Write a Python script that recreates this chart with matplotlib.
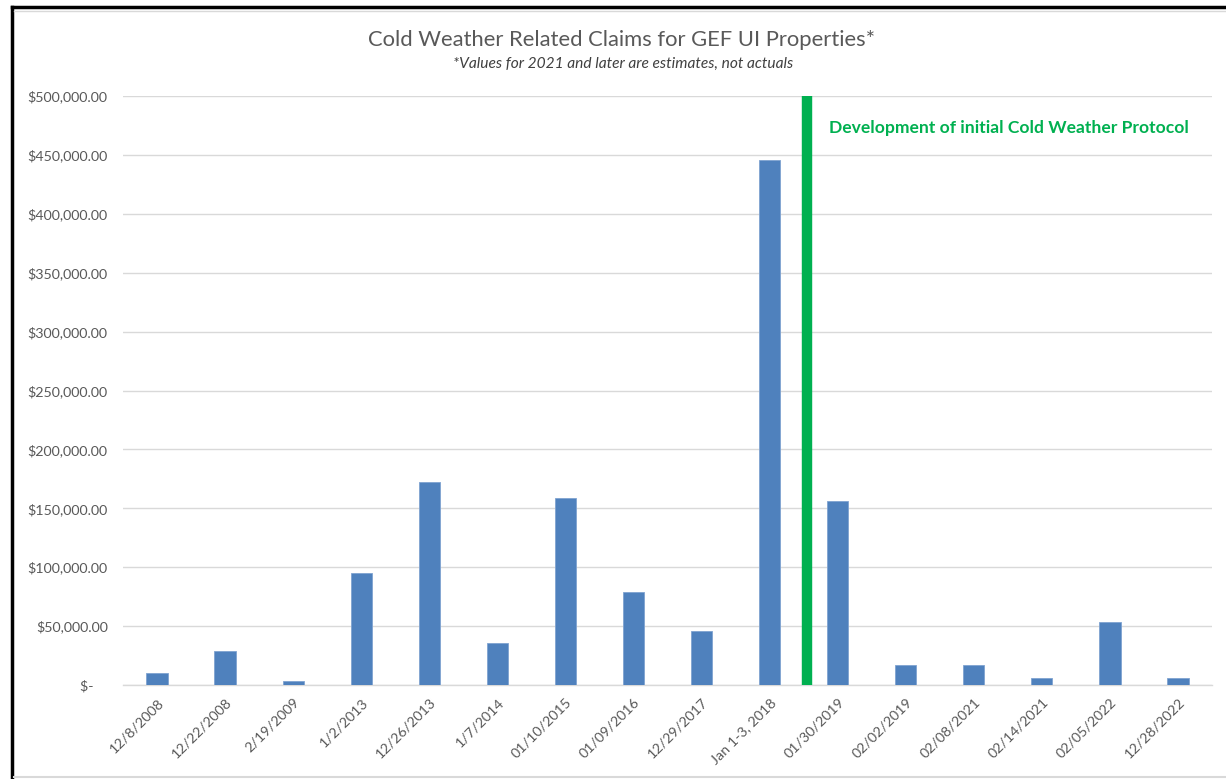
import matplotlib.pyplot as plt
from matplotlib.lines import Line2D
from matplotlib.ticker import FuncFormatter

plt.rcParams['font.family'] = ['Lato', 'DejaVu Sans']

# claim dates (x categories) and claim amounts in dollars
dates = ['12/8/2008', '12/22/2008', '2/19/2009', '1/2/2013', '12/26/2013',
         '1/7/2014', '01/10/2015', '01/09/2016', '12/29/2017', 'Jan 1-3, 2018',
         '01/30/2019', '02/02/2019', '02/08/2021', '02/14/2021', '02/05/2022',
         '12/28/2022']
claims = [10000, 29000, 3000, 95000, 172000,
          35500, 158500, 79000, 46000, 446000,
          156000, 17000, 17000, 6000, 53500,
          6000]
protocol_pos = 9.55
protocol_label = 'Development of initial Cold Weather Protocol'

fig = plt.figure(figsize=(12.26, 7.79), dpi=100)
ax = fig.add_axes([123/1226, 1 - 685/779, 1089/1226, 589/779])

x = range(len(dates))
ax.bar(x, claims, width=0.313, color='#4F81BD', edgecolor='#7FA3D1', linewidth=0.6, zorder=3)

# protocol marker
ax.vlines(protocol_pos, -2000, 502000, color='#00B050', linewidth=7.5, zorder=4)
ax.text(protocol_pos + 0.33, 473000, protocol_label, color='#00B050',
        fontsize=12.6, fontweight='bold', va='center', ha='left')

ax.set_xlim(-0.5, len(dates) - 0.5)
ax.set_ylim(0, 500000)
ax.set_yticks(range(0, 500001, 50000))

def money(v, pos):
    if v == 0:
        return '$-    '
    return '${:,.2f}'.format(v)

ax.yaxis.set_major_formatter(FuncFormatter(money))
ax.set_xticks(list(x))
ax.set_xticklabels(dates, rotation=45, ha='right', rotation_mode='anchor')
ax.tick_params(axis='both', length=0, colors='#595959', labelsize=10.3)
ax.tick_params(axis='y', pad=11)
ax.tick_params(axis='x', pad=8)

ax.grid(axis='y', color='#D9D9D9', linewidth=1, zorder=0)
for s in ['top', 'right', 'left']:
    ax.spines[s].set_visible(False)
ax.spines['bottom'].set_color('#D9D9D9')
ax.spines['bottom'].set_linewidth(1)

fig.text(622/1226, 1 - 40/779, 'Cold Weather Related Claims for GEF UI Properties*',
         ha='center', va='center', fontsize=15.8, color='#595959')
fig.text(623/1226, 1 - 64/779, '*Values for 2021 and later are estimates, not actuals',
         ha='center', va='center', fontsize=11.2, style='italic', color='#404040')

# outer frame
fig.add_artist(Line2D([12/1226, 12/1226], [0, 1 - 7/779], transform=fig.transFigure,
                      color='black', linewidth=2.5))
fig.add_artist(Line2D([12/1226, 1], [1 - 7/779, 1 - 7/779], transform=fig.transFigure,
                      color='black', linewidth=2.5))
fig.add_artist(Line2D([14/1226, 1], [1 - 11/779, 1 - 11/779], transform=fig.transFigure,
                      color='#D9D9D9', linewidth=1))
fig.add_artist(Line2D([14/1226, 1], [1 - 777/779, 1 - 777/779], transform=fig.transFigure,
                      color='#D9D9D9', linewidth=1.5))

fig.savefig('out.png', dpi=100)
